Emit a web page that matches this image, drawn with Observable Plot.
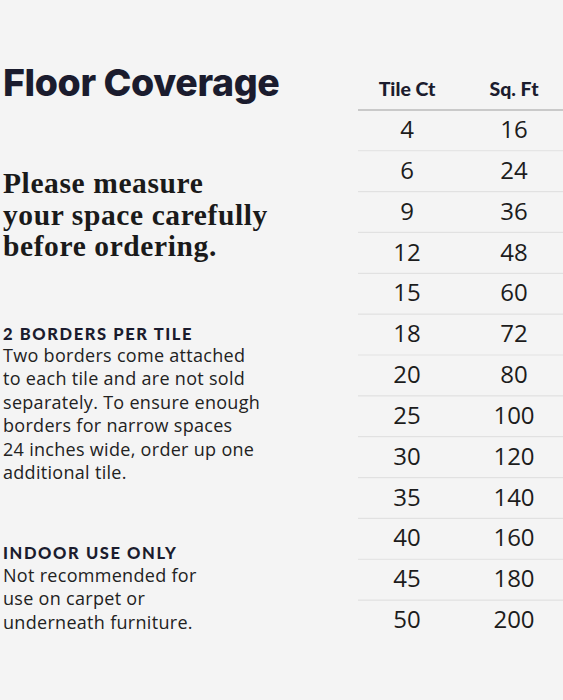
<!DOCTYPE html>
<html>
<head>
<meta charset="utf-8">
<script src="https://cdn.jsdelivr.net/npm/d3@7"></script>
<script src="https://cdn.jsdelivr.net/npm/@observablehq/plot@0.6"></script>
<style>
  html, body { margin: 0; padding: 0; background: #f4f4f4; }
  #wrap { position: relative; width: 563px; height: 700px; overflow: hidden; background: #f4f4f4; }
  #chart { position: absolute; left: 0; top: 0; }
  .t { position: absolute; left: 3px; margin: 0; white-space: nowrap; }
  #title { top: 60px; font-family: Inter, sans-serif; font-weight: 800; font-size: 37.5px; color: #1b1c2e; letter-spacing: -0.4px; }
  #sub { top: 168px; font-family: "Liberation Serif", "DejaVu Serif", serif; font-weight: bold; font-size: 29.5px; line-height: 31.5px; color: #1a1a1a; letter-spacing: 0.6px; }
  .h { font-family: Lato, sans-serif; font-weight: 900; font-size: 16.5px; letter-spacing: 1.6px; color: #1b1c2e; }
  .b { font-family: "Open Sans", sans-serif; font-weight: 400; font-size: 18px; line-height: 23.4px; color: #222; letter-spacing: 0.3px; }
  #h1 { top: 324px; }
  #b1 { top: 344px; }
  #h2 { top: 543px; }
  #b2 { top: 564px; }
</style>
</head>
<body>
<div id="wrap">
  <div id="chart"></div>
  <div class="t" id="title">Floor Coverage</div>
  <div class="t" id="sub">Please measure<br>your space carefully<br>before ordering.</div>
  <div class="t h" id="h1">2 BORDERS PER TILE</div>
  <div class="t b" id="b1">Two borders come attached<br>to each tile and are not sold<br>separately. To ensure enough<br>borders for narrow spaces<br>24 inches wide, order up one<br>additional tile.</div>
  <div class="t h" id="h2">INDOOR USE ONLY</div>
  <div class="t b" id="b2">Not recommended for<br>use on carpet or<br>underneath furniture.</div>
</div>
<script>
const columns = ["Tile Ct", "Sq. Ft"];
const tileCounts = [4, 6, 9, 12, 15, 18, 20, 25, 30, 35, 40, 45, 50];
const squareFeet = [16, 24, 36, 48, 60, 72, 80, 100, 120, 140, 160, 180, 200];

const cells = tileCounts.flatMap((t, i) => [
  {col: columns[0], row: i, v: t},
  {col: columns[1], row: i, v: squareFeet[i]}
]);
const headers = columns.map(c => ({col: c, row: -1}));
const boundaries = tileCounts.slice(0, -1).map((_, i) => i + 0.5);

const chart = Plot.plot({
  width: 563,
  height: 700,
  marginLeft: 358,
  marginRight: 0,
  marginTop: 0,
  marginBottom: 0,
  style: {background: "transparent", fontFamily: "'Open Sans', sans-serif"},
  x: {type: "band", domain: columns, range: [352.5, 566.5], padding: 0, axis: null},
  y: {domain: [-1, 12], range: [89, 620], axis: null},
  marks: [
    Plot.ruleY([-0.5], {stroke: "#c9c9c9", strokeWidth: 2}),
    Plot.ruleY(boundaries, {stroke: "#e1e1e1", strokeWidth: 1.2}),
    Plot.text(headers, {x: "col", y: "row", text: "col", fontSize: 19.5, fontWeight: 900, fontFamily: "Lato, sans-serif", fill: "#1b1c2e", style: "letter-spacing:0.9px"}),
    Plot.text(cells, {x: "col", y: "row", text: d => String(d.v), fontSize: 24, fill: "#1c1c1c", style: "letter-spacing:0.8px"})
  ]
});
document.getElementById("chart").appendChild(chart);
</script>
</body>
</html>
